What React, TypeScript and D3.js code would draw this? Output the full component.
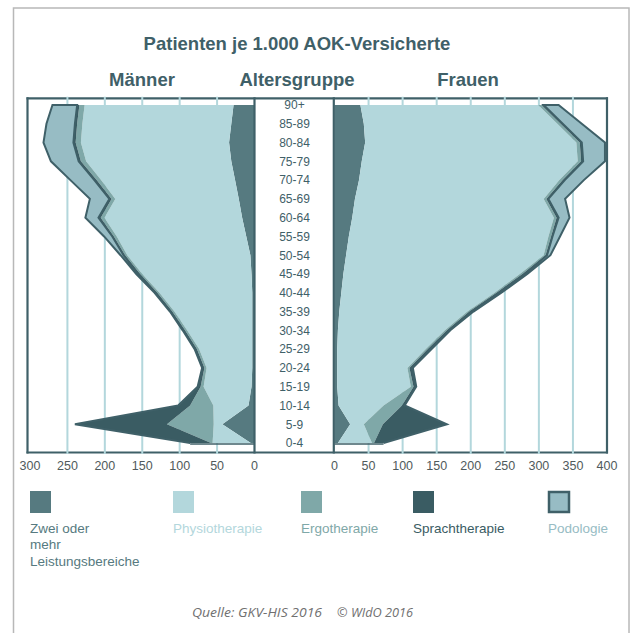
import React from "react";
import * as d3 from "d3";

const AGES = ["90+", "85-89", "80-84", "75-79", "70-74", "65-69", "60-64", "55-59", "50-54", "45-49", "40-44", "35-39", "30-34", "25-29", "20-24", "15-19", "10-14", "5-9", "0-4"];
const KEYS = ["zwei", "physio", "ergo", "sprach", "podo"];
const LEGEND_LABELS = [["Zwei oder", "mehr", "Leistungsbereiche"], ["Physiotherapie"], ["Ergotherapie"], ["Sprachtherapie"], ["Podologie"]];

// Männer (values per 1,000 insured, ages top to bottom)
const MEN_ZWEI = [28, 31, 34, 31, 26, 21, 16.5, 11, 5.5, 4, 3, 3, 3, 3, 3, 4, 8, 43, 5];
const MEN_PHYSIO = [199, 199, 198, 194, 179, 165, 184, 173, 164.5, 146, 124, 104, 87, 71, 61, 64, 47, 11.5, 51];
const MEN_ERGO = [7, 7, 7, 7, 6, 5, 5, 4, 3, 3, 3, 3, 3, 3, 3, 4, 31, 62.5, 2];
const MEN_SPRACH = [3, 3, 3, 3, 3, 3, 3, 2, 2, 2, 2, 2, 2, 2, 2, 3, 16, 123, 28];
const MEN_PODO = [33, 38, 40, 37, 32, 26, 17.5, 11, 4, 3, 1.5, 1, 1, 1, 1, 1, 0, 0, 0];

// Frauen
const WOMEN_ZWEI = [38, 43, 45, 40, 36, 30, 26, 21, 17, 13, 10, 7, 5, 4, 4, 4, 6, 23, 5];
const WOMEN_PHYSIO = [261, 284, 310, 317, 294, 277, 296, 293, 290, 259, 225, 188, 157, 130, 103, 108, 66, 20, 50];
const WOMEN_ERGO = [5, 5, 5, 5, 5, 4, 4, 4, 3, 4, 3, 3, 3, 3, 3, 4, 27, 28, 3];
const WOMEN_SPRACH = [3, 3, 3, 3, 3, 3, 3, 2, 2, 3, 3, 3, 3, 3, 3, 3, 4, 94, 14];
const WOMEN_PODO = [22, 28, 34, 32, 28, 24.5, 16, 11, 5, 4, 4, 3, 2, 2.5, 2, 1, 0, 0, 0];

const LEFT_TICKS = [300, 250, 200, 150, 100, 50, 0];
const RIGHT_TICKS = [0, 50, 100, 150, 200, 250, 300, 350, 400];
const LEFT_GRID = [250, 200, 150, 100, 50];
const RIGHT_GRID = [50, 100, 150, 200, 250, 300, 350];

const COLORS: Record<string, string> = {
  zwei: "#567a80",
  physio: "#b3d7dc",
  ergo: "#7fa8a8",
  sprach: "#3a5c63",
  podo: "#97bcc4",
};
const DARK = "#3f6068";
const GRID = "#b3d7dc";

function buildRows(z: number[], p: number[], e: number[], s: number[], po: number[]) {
  return AGES.map((age, i) => ({ age, zwei: z[i], physio: p[i], ergo: e[i], sprach: s[i], podo: po[i] }));
}

const menRows = buildRows(MEN_ZWEI, MEN_PHYSIO, MEN_ERGO, MEN_SPRACH, MEN_PODO);
const womenRows = buildRows(WOMEN_ZWEI, WOMEN_PHYSIO, WOMEN_ERGO, WOMEN_SPRACH, WOMEN_PODO);

const TOP = 98.3;
const BOTTOM = 452.5;
const L_LEFT = 27.5;
const L_RIGHT = 254.5;
const R_LEFT = 333.8;
const R_RIGHT = 607;

const y = d3.scalePoint<string>().domain(AGES).range([105, 443]);
const xL = d3.scaleLinear().domain([0, 300]).range([254.5, 30]);
const xR = d3.scaleLinear().domain([0, 400]).range([334.5, 607]);

function Panel({ rows, x }: { rows: any[]; x: d3.ScaleLinear<number, number> }) {
  const stack = d3.stack<any>().keys(KEYS)(rows);
  const area = d3
    .area<any>()
    .y((d) => y(d.data.age) as number)
    .x0((d) => x(d[0]))
    .x1((d) => x(d[1]));
  const last = stack[stack.length - 1];
  const bottomPt = last[last.length - 1];
  return (
    <g>
      {stack.map((layer) => (
        <path
          key={layer.key}
          d={area(layer) as string}
          fill={COLORS[layer.key]}
          stroke={layer.key === "podo" ? DARK : "none"}
          strokeWidth={layer.key === "podo" ? 2 : 0}
          strokeLinejoin="miter"
        />
      ))}
      <line
        x1={x(0)}
        x2={x(bottomPt[1])}
        y1={(y(bottomPt.data.age) as number) + 1}
        y2={(y(bottomPt.data.age) as number) + 1}
        stroke={DARK}
        strokeWidth={1.6}
      />
    </g>
  );
}

export default function App() {
  const font = "'Liberation Sans', Arial, sans-serif";
  const legendX = [30, 173, 301, 413, 548];
  return (
    <svg width={632} height={633} style={{ position: "absolute", left: 0, top: 0, background: "#fff" }} fontFamily={font}>
      <rect x={13.5} y={8} width={615.5} height={640} fill="none" stroke="#b8b8b8" strokeWidth={1.5} />

      <text x={297} y={49.5} textAnchor="middle" fontSize={18.5} fontWeight="bold" fill={DARK}>
        Patienten je 1.000 AOK-Versicherte
      </text>
      <text x={142} y={85.5} textAnchor="middle" fontSize={18.5} fontWeight="bold" fill={DARK}>Männer</text>
      <text x={297} y={85.5} textAnchor="middle" fontSize={18.5} fontWeight="bold" fill={DARK}>Altersgruppe</text>
      <text x={468} y={85.5} textAnchor="middle" fontSize={18.5} fontWeight="bold" fill={DARK}>Frauen</text>

      {/* horizontal frame lines */}
      <line x1={L_LEFT - 1} x2={R_RIGHT + 1} y1={TOP} y2={TOP} stroke={DARK} strokeWidth={2.2} />
      <line x1={L_LEFT - 1} x2={R_RIGHT + 1} y1={BOTTOM} y2={BOTTOM} stroke={DARK} strokeWidth={2.2} />

      {/* grid */}
      {LEFT_GRID.map((v) => (
        <line key={"lg" + v} x1={xL(v)} x2={xL(v)} y1={TOP - 1.5} y2={BOTTOM + 1.5} stroke={GRID} strokeWidth={2} />
      ))}
      {RIGHT_GRID.map((v) => (
        <line key={"rg" + v} x1={xR(v)} x2={xR(v)} y1={TOP - 1.5} y2={BOTTOM + 1.5} stroke={GRID} strokeWidth={2} />
      ))}

      <Panel rows={menRows} x={xL} />
      <Panel rows={womenRows} x={xR} />

      {/* vertical frame lines */}
      {[L_LEFT, L_RIGHT, R_LEFT, R_RIGHT].map((xx, i) => (
        <line key={"v" + i} x1={xx} x2={xx} y1={TOP - 1.1} y2={BOTTOM + 1.1} stroke={DARK} strokeWidth={2.2} />
      ))}

      {/* age labels */}
      {AGES.map((a) => (
        <text key={a} x={294.5} y={(y(a) as number) + 4.3} textAnchor="middle" fontSize={12} fill={DARK}>
          {a}
        </text>
      ))}

      {/* tick labels */}
      {LEFT_TICKS.map((v) => (
        <text key={"lt" + v} x={xL(v)} y={469.5} textAnchor="middle" fontSize={12.5} fill="#505a5c">{v}</text>
      ))}
      {RIGHT_TICKS.map((v) => (
        <text key={"rt" + v} x={xR(v)} y={469.5} textAnchor="middle" fontSize={12.5} fill="#505a5c">{v}</text>
      ))}

      {/* legend */}
      {KEYS.map((k, i) => (
        <g key={"leg" + k}>
          {k === "podo" ? (
            <rect x={legendX[i] + 1} y={492} width={20} height={20} fill={COLORS[k]} stroke={DARK} strokeWidth={2.5} />
          ) : (
            <rect x={legendX[i]} y={491} width={21} height={22} fill={COLORS[k]} />
          )}
          {LEGEND_LABELS[i].map((line, j) => (
            <text key={j} x={legendX[i]} y={532.5 + j * 16.5} fontSize={13.5} fill={COLORS[k]}>
              {line}
            </text>
          ))}
        </g>
      ))}

      {/* source */}
      <text x={192} y={617} fontSize={13.5} fontStyle="italic" fontFamily="'Open Sans', sans-serif" fill="#707070" textLength={130} lengthAdjust="spacingAndGlyphs">
        Quelle: GKV-HIS 2016
      </text>
      <text x={337} y={617} fontSize={13.5} fontStyle="italic" fontFamily="'Open Sans', sans-serif" fill="#707070" textLength={76} lengthAdjust="spacingAndGlyphs">
        © WIdO 2016
      </text>
    </svg>
  );
}
